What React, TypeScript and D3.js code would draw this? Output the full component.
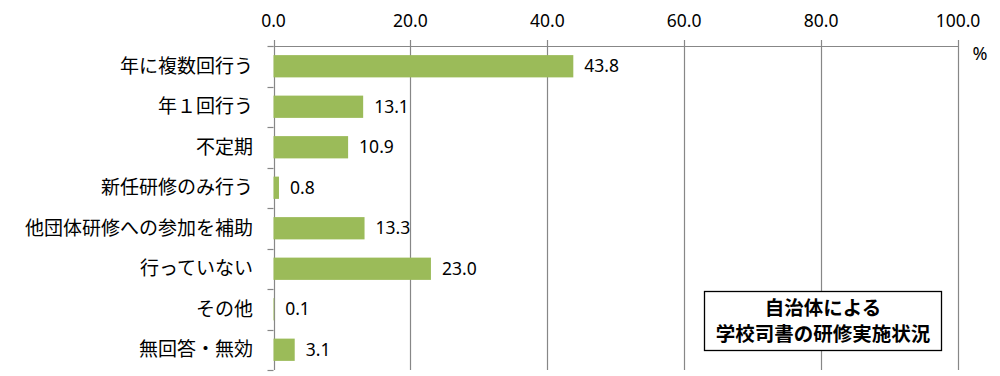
import React from "react";
import * as d3 from "d3";

const categories = [
  "年に複数回行う",
  "年１回行う",
  "不定期",
  "新任研修のみ行う",
  "他団体研修への参加を補助",
  "行っていない",
  "その他",
  "無回答・無効",
];
const values = [43.8, 13.1, 10.9, 0.8, 13.3, 23.0, 0.1, 3.1];
const ticks = [0, 20, 40, 60, 80, 100];
const titleLines = ["自治体による", "学校司書の研修実施状況"];

const W = 1000;
const H = 376;
const left = 273.5;
const right = 958;
const top = 46;
const bottom = 370;

export default function App() {
  const x = d3.scaleLinear().domain([0, 100]).range([left, right]);
  const y = d3
    .scaleBand<string>()
    .domain(categories)
    .range([top, bottom])
    .paddingInner(0.45)
    .paddingOuter(0.225);
  const band = (bottom - top) / categories.length;
  const font = "'Noto Sans CJK JP', 'Noto Sans', sans-serif";
  const numFont = "'Noto Sans', sans-serif";
  const gridColor = "#878787";

  return (
    <svg
      width={W}
      height={H}
      style={{ position: "absolute", left: 0, top: 0, background: "#fff" }}
      fontFamily={font}
    >
      {ticks.map((t) => (
        <line
          key={"g" + t}
          x1={Math.round(x(t)) + 0.5}
          x2={Math.round(x(t)) + 0.5}
          y1={top - 6}
          y2={bottom}
          stroke={gridColor}
          strokeWidth={1.2}
        />
      ))}
      <line x1={left} x2={right} y1={top + 0.5} y2={top + 0.5} stroke={gridColor} strokeWidth={1.2} />
      {d3.range(categories.length + 1).map((i) => (
        <line
          key={"lt" + i}
          x1={left - 6}
          x2={left}
          y1={Math.round(top + i * band) + 0.5}
          y2={Math.round(top + i * band) + 0.5}
          stroke={gridColor}
          strokeWidth={1.2}
        />
      ))}
      {ticks.map((t) => (
        <text
          key={"tl" + t}
          x={x(t)}
          y={21}
          dy="0.35em"
          textAnchor="middle"
          fontSize={17.5}
          fill="#000"
          fontFamily={numFont}
        >
          {t.toFixed(1)}
        </text>
      ))}
      <text x={980} y={54} dy="0.35em" textAnchor="middle" fontSize={18} fontFamily={numFont}>
        %
      </text>
      {categories.map((c, i) => (
        <rect
          key={"b" + c}
          x={x(0)}
          y={y(c)}
          width={x(values[i]) - x(0)}
          height={y.bandwidth()}
          fill="#9BBB59"
        />
      ))}
      {categories.map((c, i) => (
        <text
          key={"v" + c}
          x={x(values[i]) + 11}
          y={(y(c) as number) + y.bandwidth() / 2}
          dy="0.35em"
          fontSize={17.5}
          fontFamily={numFont}
        >
          {values[i].toFixed(1)}
        </text>
      ))}
      {categories.map((c) => (
        <text
          key={"c" + c}
          x={253}
          y={(y(c) as number) + y.bandwidth() / 2}
          dy="0.35em"
          textAnchor="end"
          fontSize={19}
        >
          {c}
        </text>
      ))}
      <rect x={704.5} y={291.5} width={237} height={59} fill="#fff" stroke="#000" strokeWidth={1.3} />
      <text textAnchor="middle" fontSize={19.5} fontWeight="bold">
        {titleLines.map((l, i) => (
          <tspan key={"t" + i} x={823} y={314.5 + i * 26}>
            {l}
          </tspan>
        ))}
      </text>
    </svg>
  );
}
